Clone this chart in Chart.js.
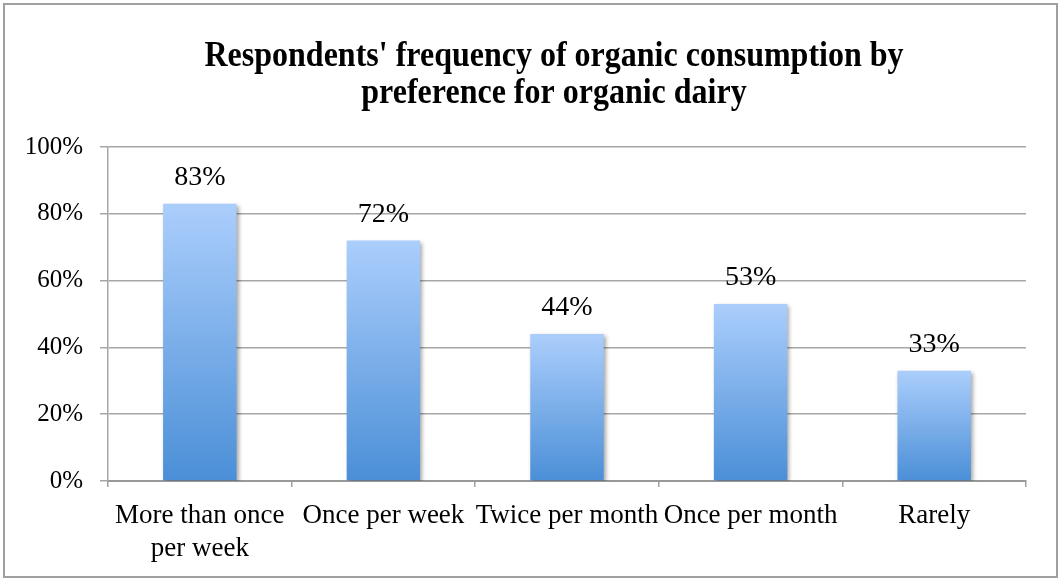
<!DOCTYPE html>
<html>
<head>
<meta charset="utf-8">
<script src="https://cdn.jsdelivr.net/npm/chart.js@4/dist/chart.umd.min.js"></script>
<style>
html,body{margin:0;padding:0;background:#fff;}
#wrap{width:1061px;height:581px;position:relative;}
</style>
</head>
<body>
<div id="wrap"><canvas id="c" width="1061" height="581"></canvas></div>
<script>
const titleLines = ["Respondents' frequency of organic consumption by", "preference for organic dairy"];
const categories = [["More than once", "per week"], "Once per week", "Twice per month", "Once per month", "Rarely"];
const values = [83, 72, 44, 53, 33];
const yTicks = [0, 20, 40, 60, 80, 100];

const FONT = "'Liberation Serif', 'Times New Roman', serif";

const framePlugin = {
  id: 'frame',
  beforeDraw(chart) {
    const c = chart.ctx;
    c.save();
    c.fillStyle = '#fff';
    c.fillRect(0, 0, chart.width, chart.height);
    c.strokeStyle = '#a0a0a0';
    c.lineWidth = 2;
    c.strokeRect(4, 4, chart.width - 8, chart.height - 8);
    c.restore();
  },
  afterDraw(chart) {
    const c = chart.ctx;
    c.save();
    c.fillStyle = '#000';
    c.font = "bold 32px " + FONT;
    c.textAlign = 'center';
    c.textBaseline = 'alphabetic';
    c.translate(554, 0);
    c.scale(1, 1.1);
    c.fillText(titleLines[0], 0, 66 / 1.1);
    c.fillText(titleLines[1], 0, 103 / 1.1);
    c.restore();
  }
};

const shadowPlugin = {
  id: 'barShadow',
  beforeDatasetsDraw(chart) {
    const c = chart.ctx;
    c.save();
    c.shadowColor = 'rgba(0,0,0,0.35)';
    c.shadowBlur = 4;
    c.shadowOffsetX = 2;
    c.shadowOffsetY = 2;
  },
  afterDatasetsDraw(chart) {
    chart.ctx.restore();
    const c = chart.ctx;
    const meta = chart.getDatasetMeta(0);
    c.save();
    c.fillStyle = '#000';
    c.font = "28px " + FONT;
    c.textAlign = 'center';
    c.textBaseline = 'alphabetic';
    meta.data.forEach((bar, i) => {
      c.fillText(values[i] + '%', bar.x, bar.y - 19);
    });
    c.restore();
  }
};

new Chart(document.getElementById('c'), {
  type: 'bar',
  data: {
    labels: categories,
    datasets: [{
      data: values,
      barPercentage: 0.4,
      categoryPercentage: 1.0,
      borderWidth: 0,
      backgroundColor: function(ctx) {
        const chart = ctx.chart;
        const y = chart.scales && chart.scales.y;
        if (!y || !chart.chartArea || ctx.raw === undefined) return '#7aaef0';
        const top = y.getPixelForValue(ctx.raw);
        const bot = y.getPixelForValue(0);
        if (!isFinite(top) || !isFinite(bot) || top === bot) return '#7aaef0';
        const g = chart.ctx.createLinearGradient(0, top, 0, bot);
        g.addColorStop(0, '#abcefc');
        g.addColorStop(1, '#4b8fd7');
        return g;
      }
    }]
  },
  options: {
    responsive: false,
    animation: false,
    devicePixelRatio: 1,
    layout: { padding: { top: 147, right: 35, bottom: 0, left: 0 } },
    plugins: {
      legend: { display: false },
      title: { display: false },
      tooltip: { enabled: false }
    },
    scales: {
      x: {
        afterFit(scale) { scale.height = 100; },
        grid: {
          display: true,
          drawOnChartArea: false,
          drawTicks: true,
          tickLength: 6,
          offset: true,
          color: '#a0a0a0',
          lineWidth: 1.5
        },
        border: { display: true, color: '#999999', width: 2 },
        ticks: {
          color: '#000',
          font: { family: FONT, size: 27, lineHeight: 1.22 },
          padding: 12,
          maxRotation: 0,
          autoSkip: false
        }
      },
      y: {
        min: 0,
        max: 100,
        afterFit(scale) { scale.width = 108; },
        afterBuildTicks(scale) { scale.ticks = yTicks.map(v => ({ value: v })); },
        grid: {
          color: '#a6a6a6',
          lineWidth: 1.5,
          drawTicks: true,
          tickLength: 8
        },
        border: { display: true, color: '#a6a6a6', width: 1.5 },
        ticks: {
          color: '#000',
          font: { family: FONT, size: 25 },
          padding: 17,
          callback: v => v + '%'
        }
      }
    }
  },
  plugins: [framePlugin, shadowPlugin]
});
</script>
</body>
</html>
